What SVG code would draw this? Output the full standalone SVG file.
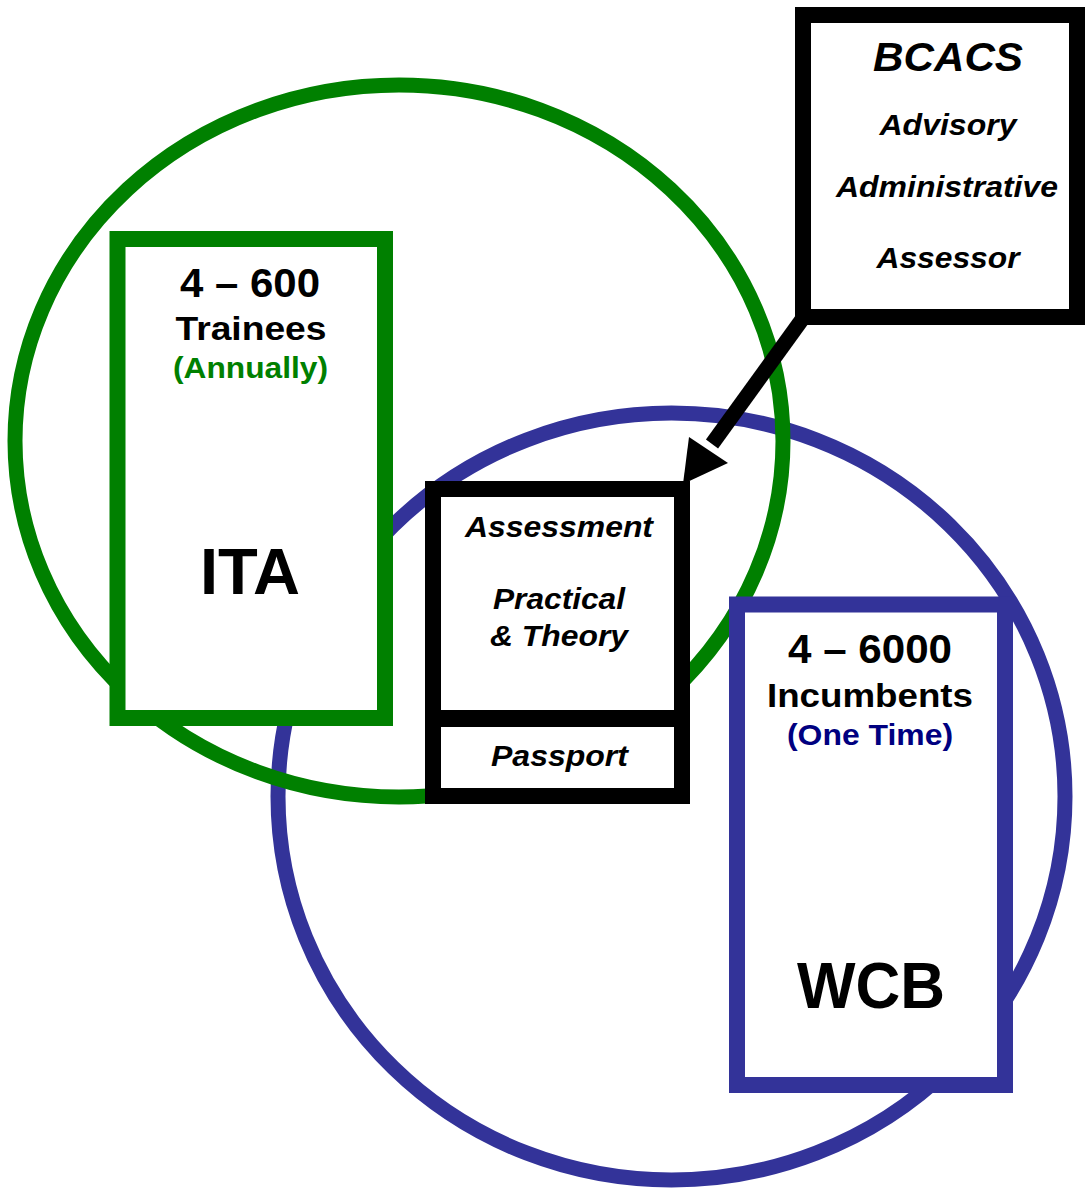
<svg xmlns="http://www.w3.org/2000/svg" width="1085" height="1189" viewBox="0 0 1085 1189">
<style>
.ring{fill:none;stroke-width:15}
.box{fill:#fff;stroke-width:16}
text{font-family:"Liberation Sans",Arial,sans-serif;font-weight:bold;text-anchor:middle;fill:#000}
.it{font-style:italic}
</style>
<rect width="1085" height="1189" fill="#fff"/>
<g id="circles">
<ellipse id="wcb-circle" class="ring" cx="671.5" cy="796.5" rx="393.5" ry="383.5" stroke="#333399"/>
<ellipse id="ita-circle" class="ring" cx="399" cy="441" rx="384" ry="356" stroke="#008000"/>
</g>
<g id="ita">
<rect class="box" x="117.5" y="239" width="267.5" height="479" stroke="#008000"/>
<text x="250" y="297" font-size="41" textLength="140" lengthAdjust="spacingAndGlyphs">4 – 600</text>
<text x="251" y="340" font-size="34" textLength="151" lengthAdjust="spacingAndGlyphs">Trainees</text>
<text x="250.5" y="378" font-size="30" style="fill:#008000" textLength="155" lengthAdjust="spacingAndGlyphs">(Annually)</text>
<text x="250" y="594" font-size="65" textLength="100" lengthAdjust="spacingAndGlyphs">ITA</text>
</g>
<g id="assessment">
<rect class="box" x="433" y="489" width="249" height="307" stroke="#000"/>
<line x1="433" y1="718.5" x2="682" y2="718.5" stroke="#000" stroke-width="17"/>
<text class="it" x="559" y="537" font-size="29" textLength="188" lengthAdjust="spacingAndGlyphs">Assessment</text>
<text class="it" x="559" y="609" font-size="29" textLength="132" lengthAdjust="spacingAndGlyphs">Practical</text>
<text class="it" x="559" y="646" font-size="29" textLength="138" lengthAdjust="spacingAndGlyphs">&amp; Theory</text>
<text class="it" x="559.5" y="766" font-size="29" textLength="137" lengthAdjust="spacingAndGlyphs">Passport</text>
</g>
<g id="wcb">
<rect class="box" x="737" y="604.5" width="268" height="480.5" stroke="#333399"/>
<text x="870" y="663" font-size="41" textLength="164" lengthAdjust="spacingAndGlyphs">4 – 6000</text>
<text x="870" y="707" font-size="34" textLength="206" lengthAdjust="spacingAndGlyphs">Incumbents</text>
<text x="870" y="745" font-size="30" style="fill:#000080" textLength="166" lengthAdjust="spacingAndGlyphs">(One Time)</text>
<text x="871" y="1008" font-size="64" textLength="148" lengthAdjust="spacingAndGlyphs">WCB</text>
</g>
<g id="bcacs">
<rect class="box" x="803" y="15" width="274" height="302" stroke="#000"/>
<text class="it" x="948" y="71" font-size="41" textLength="150" lengthAdjust="spacingAndGlyphs">BCACS</text>
<text class="it" x="948" y="135" font-size="30" textLength="137" lengthAdjust="spacingAndGlyphs">Advisory</text>
<text class="it" x="947" y="197" font-size="30" textLength="222" lengthAdjust="spacingAndGlyphs">Administrative</text>
<text class="it" x="948" y="268" font-size="30" textLength="143" lengthAdjust="spacingAndGlyphs">Assessor</text>
</g>
<g id="connectors">
<line x1="806" y1="314" x2="712" y2="444" stroke="#000" stroke-width="15"/>
<polygon points="683,484 689,437 728,463" fill="#000"/>
</g>
</svg>
